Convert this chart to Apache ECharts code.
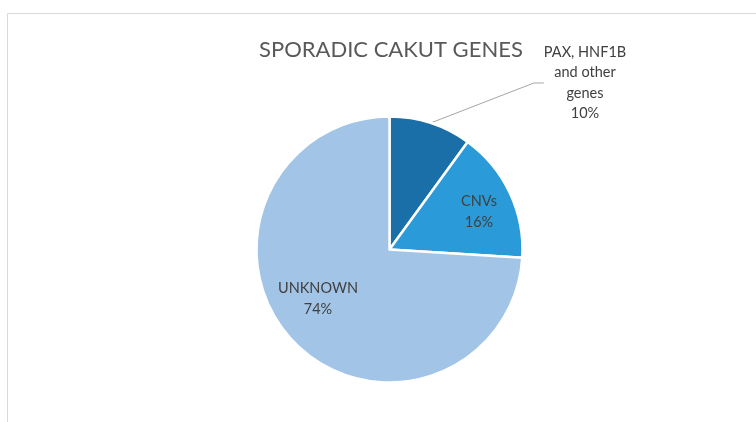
<!DOCTYPE html>
<html>
<head>
<meta charset="utf-8">
<script src="https://cdn.jsdelivr.net/npm/echarts@6/dist/echarts.min.js"></script>
<style>
html,body{margin:0;padding:0;background:#fff;}
#c{width:756px;height:422px;}
</style>
</head>
<body>
<div id="c"></div>
<script>
var titleText = 'SPORADIC CAKUT GENES';
var categories = ['PAX, HNF1B\nand other\ngenes', 'CNVs', 'UNKNOWN'];
var values = [10, 16, 74];
var colors = ['#1b6fa9', '#2b9ad8', '#a2c4e6'];

var labelPos = [[585, 83], [479, 212], [318, 299]];

var chart = echarts.init(document.getElementById('c'), null, {renderer: 'canvas'});
var FONT = 'Lato, "Open Sans", sans-serif';

var data = categories.map(function (c, i) {
  var item = {name: c, value: values[i], itemStyle: {color: colors[i]}};
  if (i === 0) {
    item.label = {position: 'outside'};
    item.labelLine = {show: true, length: 20, length2: 10, lineStyle: {color: '#a6a6a6', width: 1}};
  }
  return item;
});

chart.setOption({
  backgroundColor: '#fff',
  animation: false,
  title: {
    text: titleText,
    left: 254, top: 34,
    textStyle: {fontFamily: FONT, fontWeight: 'normal', fontSize: 22, color: '#595959'}
  },
  graphic: [{
    type: 'rect',
    shape: {x: 7.5, y: 13.5, width: 800, height: 500},
    style: {fill: 'none', stroke: '#d9d9d9', lineWidth: 1},
    silent: true
  }],
  series: [{
    type: 'pie',
    center: [389.5, 249.5],
    radius: 133,
    startAngle: 90,
    clockwise: true,
    percentPrecision: 0,
    itemStyle: {borderColor: '#fff', borderWidth: 2.5},
    label: {
      show: true,
      position: 'inside',
      formatter: '{b}\n{d}%',
      fontFamily: FONT,
      fontSize: 14.5,
      lineHeight: 20.5,
      color: '#404040',
      align: 'center'
    },
    labelLine: {show: false},
    labelLayout: function (p) {
      var pos = labelPos[p.dataIndex];
      return {x: pos[0], y: pos[1], align: 'center', verticalAlign: 'middle'};
    },
    data: data
  }]
});
</script>
</body>
</html>
